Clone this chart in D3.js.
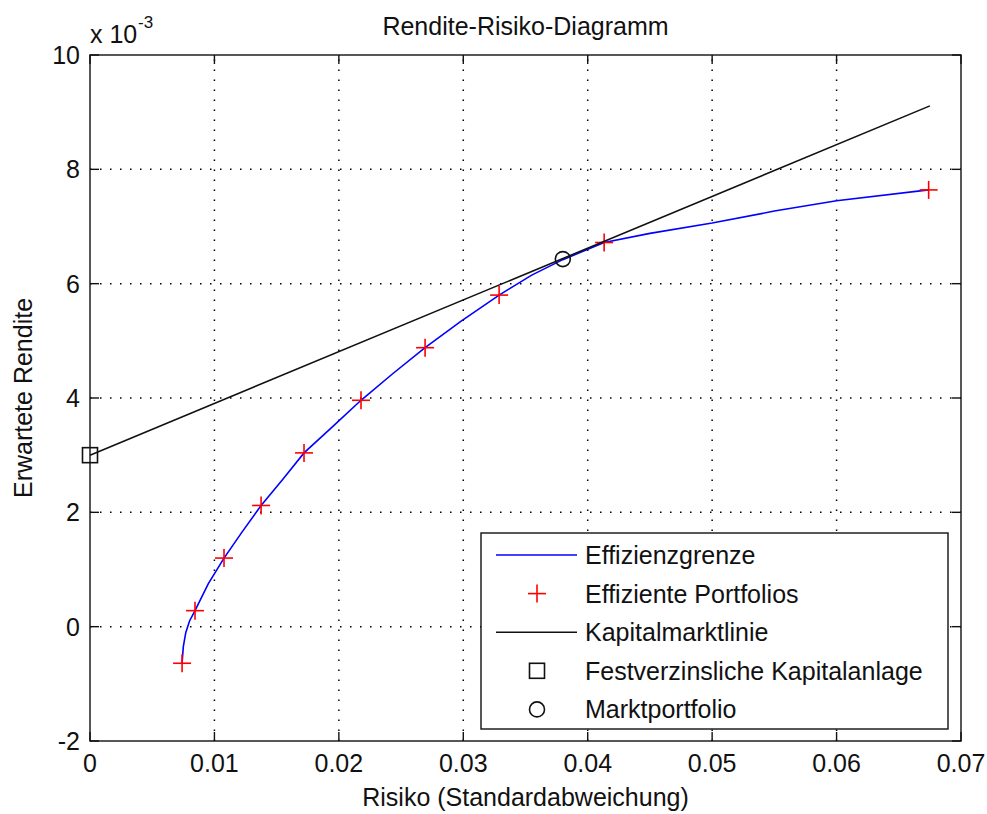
<!DOCTYPE html>
<html>
<head>
<meta charset="utf-8">
<script src="https://cdn.jsdelivr.net/npm/d3@7"></script>
<style>
  body { margin: 0; background: #fff; }
  svg text { font-family: "Liberation Sans", Arial, sans-serif; fill: #111; }
</style>
</head>
<body>
<svg width="987" height="814"></svg>
<script>
// Effizienzgrenze (Risiko, erwartete Rendite)
var frontierRisk = [0.0074, 0.0075, 0.0077, 0.0080, 0.00844, 0.0095, 0.01077, 0.0122, 0.01375, 0.0155,
                    0.0172, 0.0195, 0.02178, 0.0243, 0.02693, 0.0298, 0.03288, 0.0355, 0.0380, 0.04132,
                    0.045, 0.050, 0.055, 0.060, 0.0674];
var frontierReturn = [-0.00064, -0.00035, -0.00010, 0.00010, 0.00028, 0.00075, 0.00120, 0.00165, 0.00212, 0.00258,
                      0.00304, 0.00350, 0.00396, 0.00442, 0.00488, 0.00534, 0.00580, 0.00615, 0.00642, 0.00672,
                      0.00688, 0.00706, 0.00727, 0.00745, 0.00764];

// Effiziente Portfolios
var portRisk = [0.0074, 0.00844, 0.01077, 0.01375, 0.0172, 0.02178, 0.02693, 0.03288, 0.04132, 0.0674];
var portReturn = [-0.00064, 0.00028, 0.00120, 0.00212, 0.00304, 0.00396, 0.00488, 0.00580, 0.00672, 0.00764];

// Kapitalmarktlinie
var cmlRisk = [0, 0.0675];
var cmlReturn = [0.0030, 0.00911];

// Festverzinsliche Kapitalanlage / Marktportfolio
var riskFree = [0, 0.0030];
var market = [0.0380, 0.00643];

var xTicks = [0, 0.01, 0.02, 0.03, 0.04, 0.05, 0.06, 0.07];
var yTicks = [-0.002, 0, 0.002, 0.004, 0.006, 0.008, 0.010];

var legendItems = ["Effizienzgrenze", "Effiziente Portfolios", "Kapitalmarktlinie",
                   "Festverzinsliche Kapitalanlage", "Marktportfolio"];

var svg = d3.select("svg");
var pl = 90, pr = 961, pt = 55, pb = 741;

var x = d3.scaleLinear().domain([0, 0.07]).range([pl, pr]);
var y = d3.scaleLinear().domain([-0.002, 0.010]).range([pb, pt]);

svg.append("rect").attr("width", 987).attr("height", 814).attr("fill", "#fff");

// grid
var grid = svg.append("g")
    .attr("stroke", "#000")
    .attr("stroke-width", 1.5)
    .attr("stroke-dasharray", "1.5,8.5");
grid.selectAll(".gx").data(xTicks.slice(1, -1)).enter().append("line")
    .attr("x1", function(d) { return x(d); }).attr("x2", function(d) { return x(d); })
    .attr("y1", pb).attr("y2", pt);
grid.selectAll(".gy").data(yTicks.slice(1, -1)).enter().append("line")
    .attr("y1", function(d) { return y(d); }).attr("y2", function(d) { return y(d); })
    .attr("x1", pl).attr("x2", pr);

var line = d3.line()
    .x(function(d) { return x(d[0]); })
    .y(function(d) { return y(d[1]); });

// frontier
svg.append("path")
    .datum(d3.zip(frontierRisk, frontierReturn))
    .attr("d", line)
    .attr("fill", "none")
    .attr("stroke", "#0000ff")
    .attr("stroke-width", 1.6);

// plus markers
function plus(sel, size) {
    sel.append("line").attr("x1", -size).attr("x2", size).attr("y1", 0).attr("y2", 0);
    sel.append("line").attr("y1", -size).attr("y2", size).attr("x1", 0).attr("x2", 0);
}
svg.append("g").selectAll("g")
    .data(d3.zip(portRisk, portReturn))
    .enter().append("g")
    .attr("transform", function(d) { return "translate(" + x(d[0]) + "," + y(d[1]) + ")"; })
    .attr("stroke", "#ff0000")
    .attr("stroke-width", 1.6)
    .call(plus, 9);

// capital market line
svg.append("path")
    .datum(d3.zip(cmlRisk, cmlReturn))
    .attr("d", line)
    .attr("fill", "none")
    .attr("stroke", "#111")
    .attr("stroke-width", 1.6);

svg.append("rect")
    .attr("x", x(riskFree[0]) - 7.5).attr("y", y(riskFree[1]) - 7.5)
    .attr("width", 15).attr("height", 15)
    .attr("fill", "none").attr("stroke", "#111").attr("stroke-width", 1.6);

svg.append("circle")
    .attr("cx", x(market[0])).attr("cy", y(market[1])).attr("r", 7.5)
    .attr("fill", "none").attr("stroke", "#111").attr("stroke-width", 1.6);

// axes box with inward ticks on all sides
var axes = svg.append("g").attr("stroke", "#111").attr("stroke-width", 1.4);
axes.append("rect").attr("x", pl).attr("y", pt)
    .attr("width", pr - pl).attr("height", pb - pt).attr("fill", "none");
var tl = 9;
xTicks.forEach(function(t) {
    axes.append("line").attr("x1", x(t)).attr("x2", x(t)).attr("y1", pb).attr("y2", pb - tl);
    axes.append("line").attr("x1", x(t)).attr("x2", x(t)).attr("y1", pt).attr("y2", pt + tl);
});
yTicks.forEach(function(t) {
    axes.append("line").attr("y1", y(t)).attr("y2", y(t)).attr("x1", pl).attr("x2", pl + tl);
    axes.append("line").attr("y1", y(t)).attr("y2", y(t)).attr("x1", pr).attr("x2", pr - tl);
});

var fs = 25;
svg.selectAll(".xl").data(xTicks).enter().append("text")
    .attr("x", function(d) { return x(d); })
    .attr("y", 772)
    .attr("text-anchor", "middle")
    .attr("font-size", fs)
    .text(function(d) { return d3.format("~g")(d); });

svg.selectAll(".yl").data(yTicks).enter().append("text")
    .attr("x", 80)
    .attr("y", function(d) { return y(d); })
    .attr("dy", "0.36em")
    .attr("text-anchor", "end")
    .attr("font-size", fs)
    .text(function(d) { return Math.round(d * 1000); });

svg.append("text").attr("x", 90).attr("y", 43).attr("font-size", fs).text("x 10");
svg.append("text").attr("x", 138).attr("y", 28).attr("font-size", 17).text("-3");

svg.append("text").attr("x", (pl + pr) / 2).attr("y", 35)
    .attr("text-anchor", "middle").attr("font-size", fs).text("Rendite-Risiko-Diagramm");

svg.append("text").attr("x", (pl + pr) / 2).attr("y", 806)
    .attr("text-anchor", "middle").attr("font-size", fs).text("Risiko (Standardabweichung)");

svg.append("text").attr("transform", "translate(32," + (pt + pb) / 2 + ") rotate(-90)")
    .attr("text-anchor", "middle").attr("font-size", fs).text("Erwartete Rendite");

// legend
var lg = svg.append("g");
lg.append("rect").attr("x", 481).attr("y", 533).attr("width", 467).attr("height", 196)
    .attr("fill", "#fff").attr("stroke", "#111").attr("stroke-width", 1.4);
var rowY = function(i) { return 555 + i * 38.6; };
lg.selectAll("text").data(legendItems).enter().append("text")
    .attr("x", 585)
    .attr("y", function(d, i) { return rowY(i); })
    .attr("dy", "0.36em")
    .attr("font-size", fs)
    .text(function(d) { return d; });
lg.append("line").attr("x1", 496).attr("x2", 577).attr("y1", rowY(0)).attr("y2", rowY(0))
    .attr("stroke", "#0000ff").attr("stroke-width", 1.6);
lg.append("g").attr("transform", "translate(537," + rowY(1) + ")")
    .attr("stroke", "#ff0000").attr("stroke-width", 1.6).call(plus, 9);
lg.append("line").attr("x1", 496).attr("x2", 577).attr("y1", rowY(2)).attr("y2", rowY(2))
    .attr("stroke", "#111").attr("stroke-width", 1.6);
lg.append("rect").attr("x", 537 - 7.5).attr("y", rowY(3) - 7.5).attr("width", 15).attr("height", 15)
    .attr("fill", "none").attr("stroke", "#111").attr("stroke-width", 1.6);
lg.append("circle").attr("cx", 537).attr("cy", rowY(4)).attr("r", 7.5)
    .attr("fill", "none").attr("stroke", "#111").attr("stroke-width", 1.6);
</script>
</body>
</html>
